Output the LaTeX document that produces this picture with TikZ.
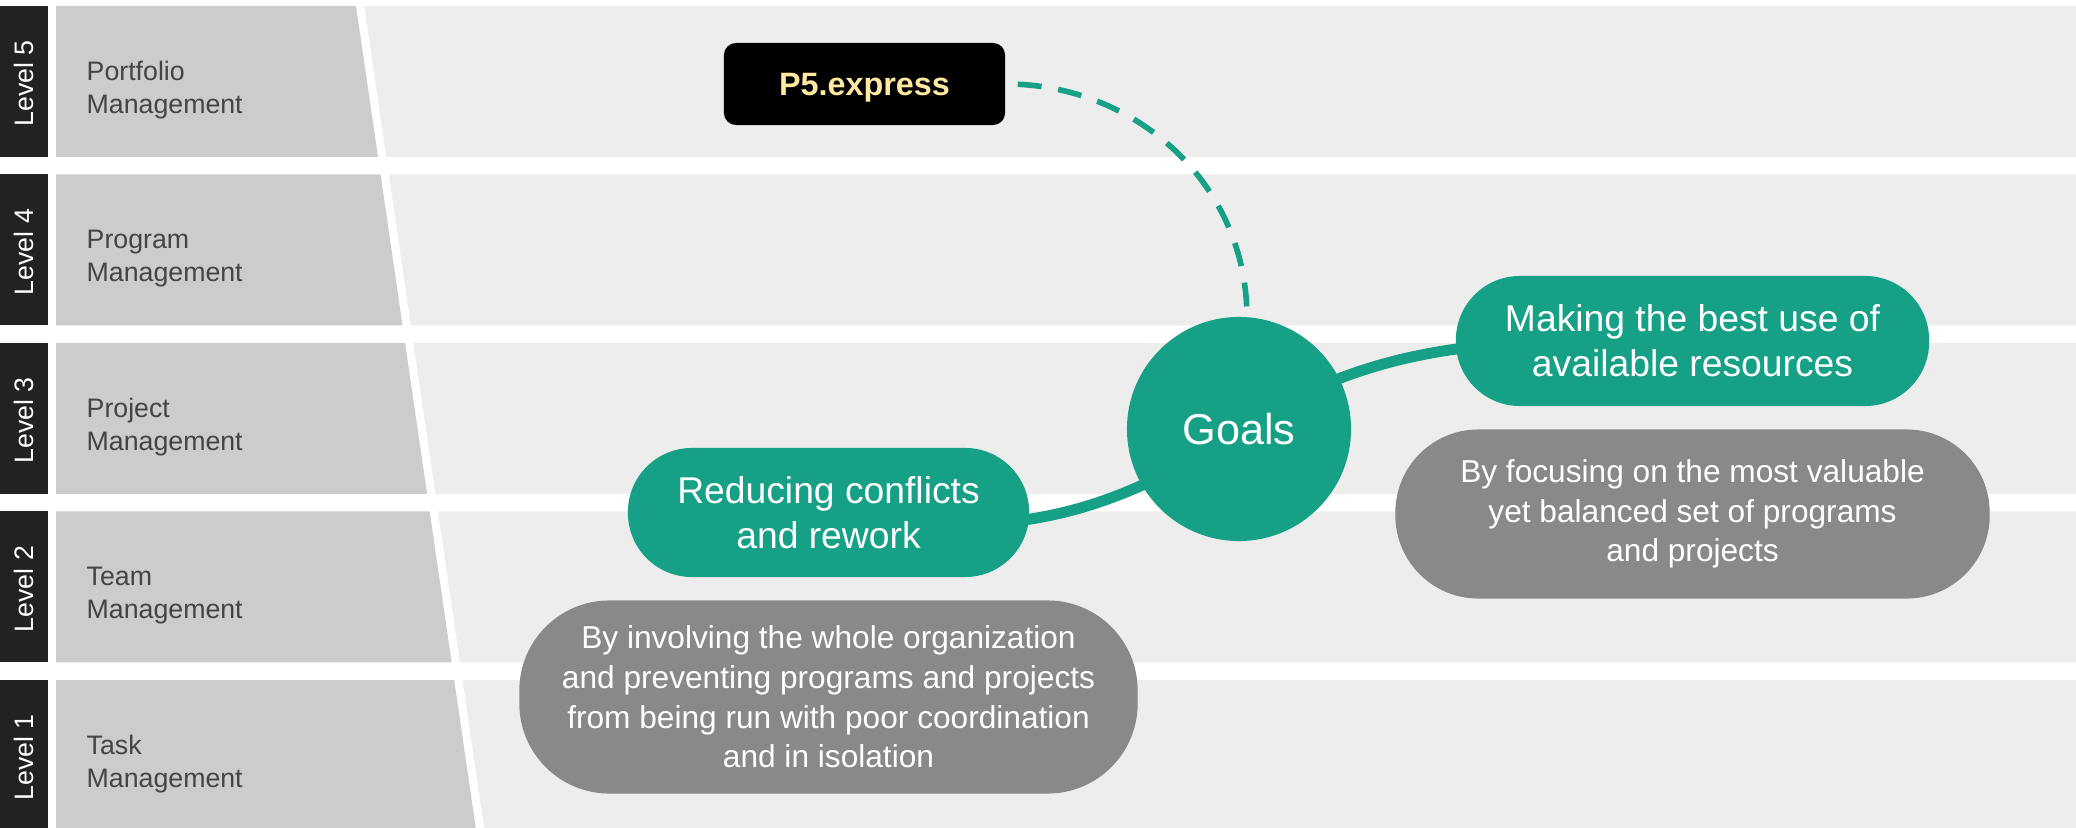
\documentclass[tikz,border=0pt]{standalone}
\usepackage{fontspec}
\setmainfont{Liberation Sans}
\usepackage{tikz}
\usetikzlibrary{positioning}
\definecolor{GoalGreen}{RGB}{22, 160, 133}
\definecolor{BubbleGrey}{RGB}{137, 137, 137}
\definecolor{StripDark}{RGB}{34, 34, 34}
\definecolor{BandGrey}{RGB}{204, 204, 204}
\definecolor{BandLight}{RGB}{237, 237, 237}
\definecolor{LabelText}{RGB}{68, 68, 68}
\definecolor{ExpressYellow}{RGB}{255, 233, 160}
\pgfdeclarelayer{bands}
\pgfdeclarelayer{links}
\pgfsetlayers{bands,links,main}

\begin{document}
\begin{tikzpicture}[x=0.01cm, y=-0.01cm,
  goalnode/.style={circle, fill=GoalGreen, text=white, minimum size=2.24cm, inner sep=0pt, font=\fontsize{12.3}{14.8}\selectfont},
  pill/.style={text=white, align=center, inner sep=0pt},
  greenpill/.style={pill, fill=GoalGreen, font=\fontsize{10.6}{12.8}\selectfont},
  greypill/.style={pill, fill=BubbleGrey, font=\fontsize{9}{11.3}\selectfont},
  link/.style={GoalGreen, line width=3.1pt},
  dashlink/.style={GoalGreen, line width=1.6pt, dash pattern=on 6.8pt off 4.8pt, dash phase=8.2pt},
  levelname/.style={anchor=west, inner sep=0pt, align=left, text=LabelText, font=\fontsize{7.6}{9.2}\selectfont},
  leveltag/.style={rotate=90, text=white, inner sep=0pt, font=\fontsize{7.6}{9.2}\selectfont}]

  \useasboundingbox (0,0) rectangle (2076,828);

  % Level bands
  \foreach \ya/\yb/\lvl/\kind in {6/157/5/Portfolio, 174.5/325.5/4/Program, 343/494/3/Project, 511.5/662.5/2/Team, 680/828/1/Task} {
    \begin{pgfonlayer}{bands}
      \fill[StripDark] (0,\ya) rectangle (48,\yb);
      \fill[BandGrey] (56,\ya) -- ({356+0.1457*(\ya-6)},\ya) -- ({356+0.1457*(\yb-6)},\yb) -- (56,\yb) -- cycle;
      \fill[BandLight] ({364.3+0.1457*(\ya-6)},\ya) -- (2076,\ya) -- (2076,\yb) -- ({364.3+0.1457*(\yb-6)},\yb) -- cycle;
    \end{pgfonlayer}
    \node[leveltag] (tag\lvl) at (24,\ya+77.5) {Level \lvl};
    \node[levelname] (name\lvl) at (86,\ya+84) {\kind\\Management};
  }

  % Goals and the two goal bubbles
  \node[goalnode] (goals) at (1239,429) {Goals};
  \node[greenpill, minimum width=4.73cm, minimum height=1.30cm, rounded corners=0.64cm] (making) at (1692.5,341) {Making the best use of\\available resources};
  \node[greypill, minimum width=5.94cm, minimum height=1.69cm, rounded corners=0.83cm, below=0.22cm of making] (focusing) {By focusing on the most valuable\\yet balanced set of programs\\and projects};
  \node[greenpill, minimum width=4.01cm, minimum height=1.29cm, rounded corners=0.64cm] (reducing) at (828.5,512.5) {Reducing conflicts\\and rework};
  \node[greypill, minimum width=6.18cm, minimum height=1.93cm, rounded corners=0.9cm, below=0.22cm of reducing] (involving) {By involving the whole organization\\and preventing programs and projects\\from being run with poor coordination\\and in isolation};

  % P5.express
  \node[fill=black, text=ExpressYellow, rounded corners=0.12cm, minimum width=2.81cm, minimum height=0.82cm, inner sep=0pt, text depth=0pt, font=\fontsize{9.2}{11}\selectfont\bfseries] (p5) at (864.5,84) {P5.express};

  % Links
  \begin{pgfonlayer}{links}
    \draw[link] (goals.center) to[out=32, in=180] (making.center);
    \draw[link] (goals.center) to[out=215, in=350] (reducing.center);
    \draw[dashlink] (p5.east) to[out=0, in=90] (goals.86);
  \end{pgfonlayer}
\end{tikzpicture}
\end{document}
